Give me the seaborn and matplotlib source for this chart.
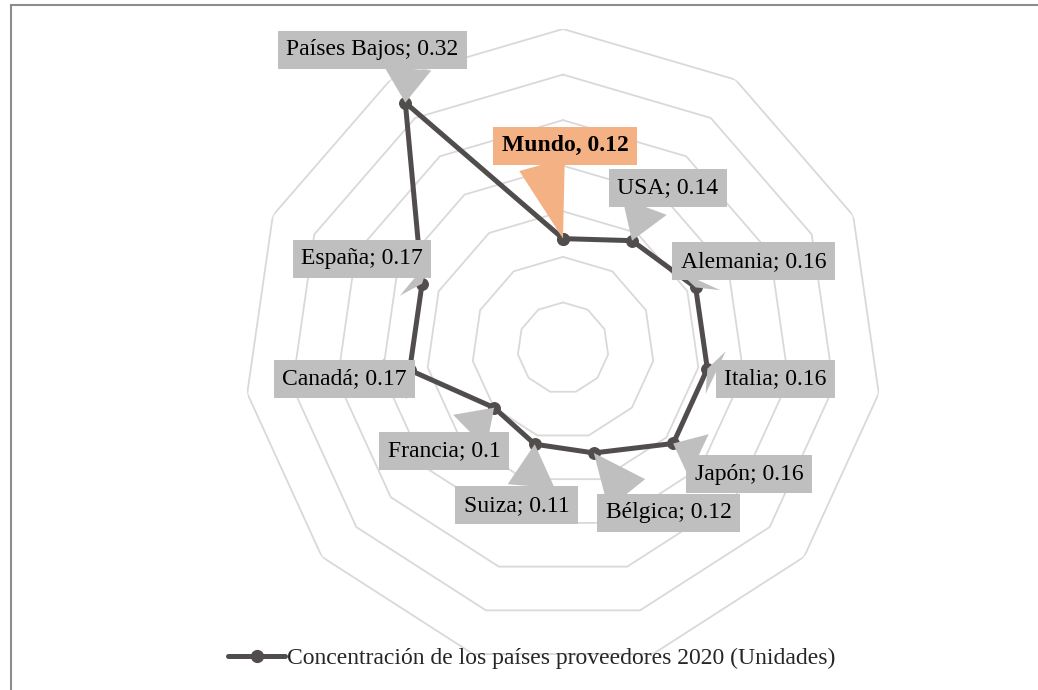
import numpy as np
import pandas as pd
import matplotlib
matplotlib.use('Agg')
import matplotlib.pyplot as plt
from matplotlib.patches import Rectangle
from matplotlib.lines import Line2D
import seaborn as sns

# Datos del gráfico
paises = ['Mundo', 'USA', 'Alemania', 'Italia', 'Japón', 'Bélgica',
          'Suiza', 'Francia', 'Canadá', 'España', 'Países Bajos']
valores = [0.12, 0.14, 0.16, 0.16, 0.16, 0.12, 0.11, 0.10, 0.17, 0.17, 0.32]
etiquetas = ['Mundo, 0.12', 'USA; 0.14', 'Alemania; 0.16', 'Italia; 0.16',
             'Japón; 0.16', 'Bélgica; 0.12', 'Suiza; 0.11', 'Francia; 0.1',
             'Canadá; 0.17', 'España; 0.17', 'Países Bajos; 0.32']
niveles = [0.05, 0.10, 0.15, 0.20, 0.25, 0.30, 0.35]
serie = 'Concentración de los países proveedores 2020 (Unidades)'

# desplazamiento de cada etiqueta respecto a su punto (pixeles)
desplazamientos = [(2, 93), (36, 53), (58, 26), (68, -10), (76, -31),
                   (75, -60), (-18, -61), (-50, -43), (-65, -9),
                   (-60, 25), (-33, 53)]
# punto del borde de la caja donde nace la flecha
origen_flecha = [(0.30, 0), (0.30, 0), (0.15, 0), (0, 0.6), (0.2, 1),
                 (0.22, 1), (0.63, 1), (0.65, 1), (0.9, 0.5),
                 (0.85, 0), (0.71, 0)]

sns.set_style('white')
plt.rcParams['font.family'] = ['Liberation Serif', 'DejaVu Serif']

n = len(paises)
angulos = np.linspace(0, 2 * np.pi, n, endpoint=False)
df = pd.DataFrame({'angulo': np.append(angulos, angulos[0]),
                   'valor': valores + valores[:1]})

fig = plt.figure(figsize=(10.38, 6.90), dpi=100)
ax = fig.add_axes([244 / 1038, 23 / 690, 638 / 1038, 638 / 690], projection='polar')
ax.set_theta_zero_location('N')
ax.set_theta_direction(-1)
ax.set_ylim(0, 0.35)
ax.grid(False)
ax.spines['polar'].set_visible(False)
ax.set_xticks([])
ax.set_yticks([])
ax.set_facecolor('white')

# Anillos poligonales
ang_cerrado = np.append(angulos, angulos[0])
for nv in niveles:
    ax.plot(ang_cerrado, [nv] * (n + 1), color='#d9d9d9', lw=1.3, zorder=1)

color_linea = '#514d4d'
sns.lineplot(data=df, x='angulo', y='valor', sort=False, estimator=None, ax=ax,
             color=color_linea, lw=3.6, marker='o', markersize=8.5,
             markeredgecolor=color_linea, zorder=3, legend=False)
ax.set_xlabel('')
ax.set_ylabel('')

# Etiquetas tipo llamada
for i, (txt, (dx, dy)) in enumerate(zip(etiquetas, desplazamientos)):
    es_mundo = i == 0
    fc = '#f4b183' if es_mundo else '#bfbfbf'
    ax.annotate(txt, xy=(angulos[i], valores[i]), xytext=(dx, dy),
                textcoords='offset pixels', ha='center', va='center',
                fontsize=17, fontweight='bold' if es_mundo else 'normal',
                color='black', zorder=5,
                bbox=dict(boxstyle='square,pad=0.36', fc=fc, ec='none'),
                arrowprops=dict(arrowstyle='wedge,tail_width=2.0', fc=fc,
                                ec='none', shrinkA=0, shrinkB=0,
                                relpos=origen_flecha[i]))

# Leyenda
handle = Line2D([], [], color=color_linea, lw=3.6, marker='o', markersize=8.5)
fig.legend([handle], [serie], loc='center', bbox_to_anchor=(532 / 1038, 1 - 658 / 690),
           frameon=False, fontsize=17, handlelength=2.4, handletextpad=0.1)

# Marco
fig.patches.append(Rectangle((11 / 1038, -0.1), 1.2, 1.1 - 5 / 690,
                             transform=fig.transFigure, fill=False,
                             ec='#8c8c8c', lw=1.5))

plt.savefig('out.png', dpi=100)
